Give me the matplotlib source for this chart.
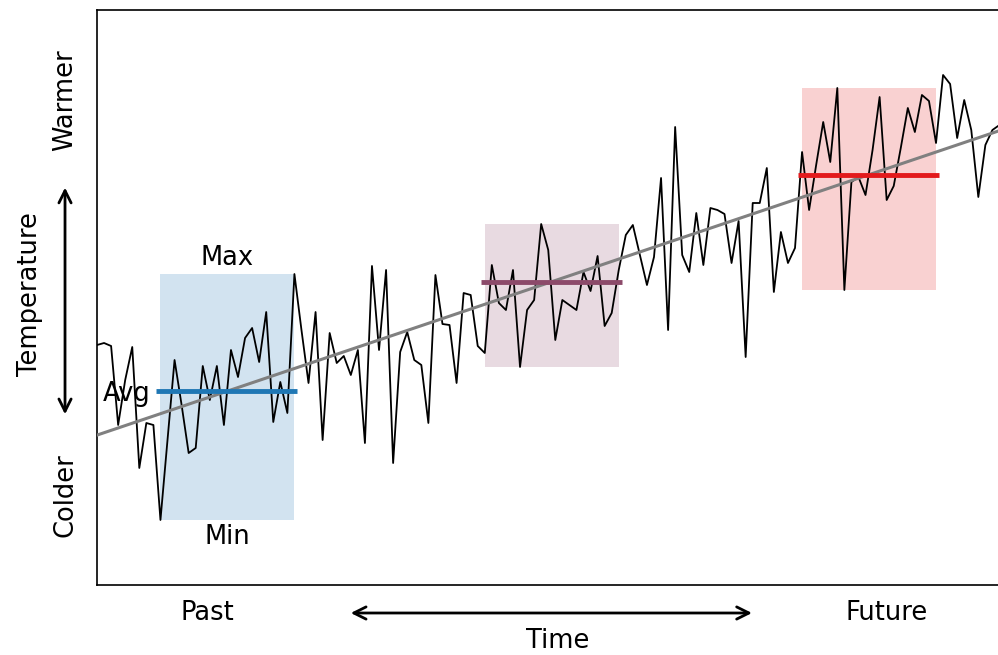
import numpy as np
import matplotlib.pyplot as plt

# temperature anomaly per year
temps = [
    2.40, 2.42, 2.39, 1.60, 2.05, 2.38, 1.17, 1.62, 1.60, 0.65,
    1.45, 2.25, 1.80, 1.32, 1.37, 2.19, 1.85, 2.19, 1.60, 2.35,
    2.08, 2.47, 2.57, 2.23, 2.73, 1.63, 2.03, 1.72, 3.11, 2.55,
    2.02, 2.73, 1.45, 2.52, 2.22, 2.29, 2.10, 2.35, 1.42, 3.19,
    2.35, 3.15, 1.22, 2.33, 2.53, 2.25, 2.20, 1.62, 3.10, 2.61,
    2.60, 2.02, 2.92, 2.90, 2.39, 2.32, 3.20, 2.82, 2.75, 3.15,
    2.18, 2.75, 2.85, 3.61, 3.35, 2.45, 2.85, 2.80, 2.75, 3.13,
    2.94, 3.29, 2.59, 2.72, 3.15, 3.50, 3.60, 3.30, 3.00, 3.28,
    4.07, 2.55, 4.58, 3.30, 3.13, 3.72, 3.20, 3.77, 3.75, 3.71,
    3.22, 3.64, 2.28, 3.82, 3.82, 4.17, 2.93, 3.53, 3.22, 3.37,
    4.33, 3.75, 4.20, 4.63, 4.23, 4.97, 2.95, 4.03, 4.08, 3.90,
    4.35, 4.88, 3.85, 3.99, 4.37, 4.77, 4.53, 4.90, 4.84, 4.42,
    5.10, 5.01, 4.47, 4.85, 4.55, 3.88, 4.40, 4.55, 4.60,
]
years = np.arange(1890, 1890 + len(temps))

# first and last index of the three highlighted periods
windows = [(9, 28), (55, 74), (100, 119)]
window_colors = ["#1f77b4", "#8c4a6a", "#e31a1c"]

fig = plt.figure(figsize=(9.98, 6.55), dpi=100)
ax = fig.add_axes([97 / 998, 70 / 655, 906 / 998, 575 / 655])
ax.set_xlim(years[0], years[0] + 128.5)
ax.set_ylim(0, 5.75)
ax.set_xticks([])
ax.set_yticks([])
for side in ax.spines:
    ax.spines[side].set_linewidth(1.2)

ax.plot(years, temps, color="black", linewidth=1.3, zorder=3)

# linear trend over the whole record
coef = np.polyfit(years, temps, 1)
xs = np.array(ax.get_xlim())
ax.plot(xs, np.polyval(coef, xs), color="gray", linewidth=2.2, zorder=4)

temps_arr = np.array(temps)
for (a, b), c in zip(windows, window_colors):
    seg = temps_arr[a:b + 1]
    ax.fill_between(
        [years[a], years[b]], seg.min(), seg.max(), color=c, alpha=0.2, linewidth=0, zorder=1
    )
    avg = np.polyval(coef, (years[a] + years[b]) / 2)
    ax.hlines(avg, years[a] - 0.6, years[b] + 0.4, color=c, linewidth=3.5, zorder=5)

# labels for the first box
a, b = windows[0]
seg = temps_arr[a:b + 1]
mid = (years[a] + years[b]) / 2
avg0 = np.polyval(coef, mid)
ax.annotate("Max", (mid, seg.max()), xytext=(0, 2), textcoords="offset points",
            ha="center", va="bottom", fontsize=18.5)
ax.annotate("Min", (mid, seg.min()), xytext=(0, -3), textcoords="offset points",
            ha="center", va="top", fontsize=18.5)
ax.annotate("Avg", (years[a] - 0.6, avg0), xytext=(-4, -2), textcoords="offset points",
            ha="right", va="center", fontsize=18.5)

# axis descriptions outside the frame
ax.text(0.1214, -0.0487, "Past", transform=ax.transAxes, ha="center", va="center", fontsize=18.5)
ax.text(0.871, -0.0487, "Future", transform=ax.transAxes, ha="center", va="center", fontsize=18.5)
ax.text(0.508, -0.0974, "Time", transform=ax.transAxes, ha="center", va="center", fontsize=18.5)
ax.annotate("", xy=(0.277, -0.0487), xytext=(0.726, -0.0487), xycoords="axes fraction",
            arrowprops=dict(arrowstyle="<->", color="black", lw=2, mutation_scale=22))

ax.text(-0.074, 0.506, "Temperature", transform=ax.transAxes, ha="center", va="center",
        rotation=90, fontsize=18.5)
ax.text(-0.0353, 0.843, "Warmer", transform=ax.transAxes, ha="center", va="center",
        rotation=90, fontsize=18.5)
ax.text(-0.0353, 0.157, "Colder", transform=ax.transAxes, ha="center", va="center",
        rotation=90, fontsize=18.5)
ax.annotate("", xy=(-0.0353, 0.696), xytext=(-0.0353, 0.292), xycoords="axes fraction",
            arrowprops=dict(arrowstyle="<->", color="black", lw=2, mutation_scale=22))

fig.savefig("out.png", dpi=100)
